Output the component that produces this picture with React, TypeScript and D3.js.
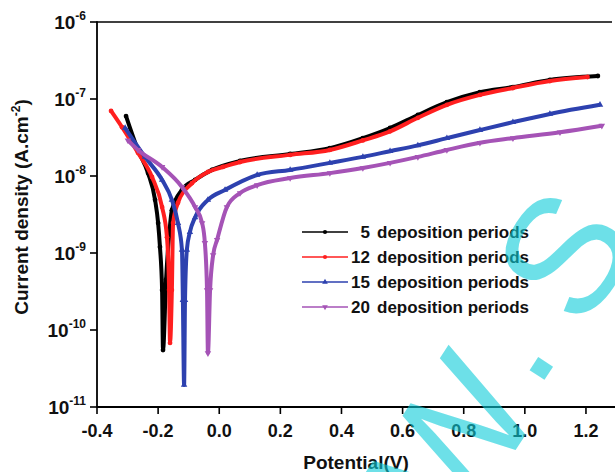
import React from "react";
import * as d3 from "d3";

// ---- data ----
const xTicks = [-0.4, -0.2, 0.0, 0.2, 0.4, 0.6, 0.8, 1.0, 1.2];
const yTickExps = [-6, -7, -8, -9, -10, -11];

const seriesNames = ["5  deposition periods", "12 deposition periods", "15 deposition periods", "20 deposition periods"];
const seriesNumbers = ["5", "12", "15", "20"];

const potential5 = [-0.305, -0.266, -0.233, -0.21, -0.2, -0.194, -0.187, -0.184, -0.174, -0.164, -0.155, -0.122, -0.079, -0.024, 0.068, 0.232, 0.362, 0.47, 0.559, 0.65, 0.745, 0.853, 0.961, 1.082, 1.239];
const current5 = [6.0e-8, 2.18e-8, 1.09e-8, 4.9e-9, 2.45e-9, 1.2e-9, 3.3e-10, 5.5e-11, 4.5e-10, 1.7e-9, 3.6e-9, 6.6e-9, 8.9e-9, 1.2e-8, 1.57e-8, 1.93e-8, 2.3e-8, 3.1e-8, 4.2e-8, 6.2e-8, 9.1e-8, 1.23e-7, 1.43e-7, 1.77e-7, 1.99e-7];

const potential12 = [-0.354, -0.318, -0.266, -0.22, -0.187, -0.171, -0.164, -0.161, -0.155, -0.151, -0.135, -0.089, -0.037, 0.012, 0.068, 0.232, 0.362, 0.47, 0.559, 0.65, 0.745, 0.853, 0.961, 1.082, 1.205];
const current12 = [7.0e-8, 4.3e-8, 2.0e-8, 9.7e-9, 3.95e-9, 1.6e-9, 3.3e-10, 6.8e-11, 3.3e-10, 2.45e-9, 4.5e-9, 8.1e-9, 1.13e-8, 1.31e-8, 1.52e-8, 1.88e-8, 2.18e-8, 2.9e-8, 3.8e-8, 5.7e-8, 8.4e-8, 1.13e-7, 1.39e-7, 1.71e-7, 1.93e-7];

const potential15 = [-0.308, -0.243, -0.187, -0.155, -0.135, -0.122, -0.119, -0.115, -0.112, -0.106, -0.096, -0.079, -0.037, 0.019, 0.124, 0.232, 0.362, 0.47, 0.559, 0.65, 0.745, 0.853, 0.961, 1.082, 1.246];
const current15 = [4.2e-8, 1.77e-8, 8.9e-9, 4.9e-9, 2.45e-9, 1.1e-9, 2.45e-10, 1.93e-11, 2.45e-10, 1.1e-9, 1.87e-9, 2.9e-9, 4.9e-9, 6.6e-9, 1.03e-8, 1.2e-8, 1.48e-8, 1.77e-8, 2.1e-8, 2.5e-8, 3.1e-8, 3.95e-8, 5.0e-8, 6.4e-8, 8.4e-8];

const potential20 = [-0.299, -0.266, -0.187, -0.122, -0.079, -0.056, -0.047, -0.04, -0.037, -0.03, -0.02, -0.007, 0.025, 0.068, 0.124, 0.232, 0.362, 0.47, 0.559, 0.65, 0.745, 0.853, 0.961, 1.115, 1.252];
const current20 = [2.9e-8, 2.18e-8, 1.31e-8, 7.2e-9, 3.95e-9, 2.45e-9, 1.35e-9, 3.3e-10, 5.0e-11, 3.3e-10, 9.4e-10, 1.48e-9, 3.95e-9, 6.0e-9, 7.6e-9, 9.4e-9, 1.09e-8, 1.27e-8, 1.48e-8, 1.77e-8, 2.18e-8, 2.7e-8, 3.1e-8, 3.7e-8, 4.5e-8];

const potentials = [potential5, potential12, potential15, potential20];
const currents = [current5, current12, current15, current20];

// ---- styles ----
const colors = ["#000000", "#ff1f1f", "#2d41af", "#a553b6"];
const symbols = [d3.symbolCircle, d3.symbolCircle, d3.symbolTriangle, d3.symbolTriangle];
const FONT = "'Liberation Sans', Arial, sans-serif";

const W = 615;
const H = 472;
const left = 97;
const right = 612;
const top = 22;
const bottom = 407;

export default function App() {
  const x = d3.scaleLinear().domain([-0.4, -0.4 + (right - left) / 305.6]).range([left, right]);
  const y = d3.scaleLog().domain([1e-11, 1e-6]).range([bottom, top]);

  const line = d3
    .line<[number, number]>()
    .x((d) => x(d[0]))
    .y((d) => y(d[1]))
    .curve(d3.curveMonotoneX);

  const series = potentials.map((p, i) => p.map((v, j) => [v, currents[i][j]] as [number, number]));

  const legendY = [232, 257, 282, 307];

  return (
    <svg width={W} height={H} style={{ position: "fixed", left: 0, top: 0, background: "#fff" }} fontFamily={FONT}>
      <rect x={0} y={0} width={W} height={H} fill="#fff" />

      {/* curves */}
      {series.map((s, i) => (
        <g key={i}>
          <path d={line(s) || ""} fill="none" stroke={colors[i]} strokeWidth={4} strokeLinejoin="round" />
          {s.map((d, j) => (
            <path
              key={j}
              transform={`translate(${x(d[0])},${y(d[1])})${i === 3 ? " rotate(180)" : ""}`}
              d={d3.symbol().type(symbols[i]).size(18)() || ""}
              fill={colors[i]}
            />
          ))}
        </g>
      ))}

      {/* frame */}
      <line x1={left} x2={right} y1={top} y2={top} stroke="#000" strokeWidth={1.6} />
      <line x1={left} x2={left} y1={top - 0.8} y2={bottom + 0.8} stroke="#000" strokeWidth={1.8} />
      <line x1={left} x2={W} y1={bottom} y2={bottom} stroke="#000" strokeWidth={1.8} />

      {/* x ticks */}
      {xTicks.map((t) => (
        <g key={t}>
          <line x1={x(t)} x2={x(t)} y1={bottom} y2={bottom + 7} stroke="#000" strokeWidth={1.6} />
          <text x={x(t)} y={437} textAnchor="middle" fontSize={18} fontWeight="bold" fill="#111">
            {t.toFixed(1)}
          </text>
        </g>
      ))}

      {/* y ticks */}
      {yTickExps.map((e) => (
        <g key={e}>
          <line x1={left - 7} x2={left} y1={y(Math.pow(10, e))} y2={y(Math.pow(10, e))} stroke="#000" strokeWidth={1.6} />
          <text x={86} y={y(Math.pow(10, e)) + 7} textAnchor="end" fontSize={19} fontWeight="bold" fill="#111">
            10
            <tspan fontSize={12} dy={-9}>
              {String(e)}
            </tspan>
          </text>
        </g>
      ))}

      {/* axis titles */}
      <text x={356} y={469} textAnchor="middle" fontSize={19} fontWeight="bold" fill="#111">
        Potential(V)
      </text>
      <text transform="translate(28,207) rotate(-90)" textAnchor="middle" fontSize={19} fontWeight="bold" fill="#111">
        Current density (A.cm
        <tspan fontSize={12} dy={-8}>-2</tspan>
        <tspan dy={8}>)</tspan>
      </text>

      {/* legend */}
      {seriesNames.map((name, i) => (
        <g key={name}>
          <line x1={302} x2={348} y1={legendY[i]} y2={legendY[i]} stroke={colors[i]} strokeWidth={1.6} />
          <path
            transform={`translate(325,${legendY[i]})${i === 3 ? " rotate(180)" : ""}`}
            d={d3.symbol().type(symbols[i]).size(14)() || ""}
            fill={colors[i]}
          />
          <text x={370} y={legendY[i] + 6} textAnchor="end" fontSize={17} fontWeight="bold" fill="#111">
            {seriesNumbers[i]}
          </text>
          <text x={377} y={legendY[i] + 6} fontSize={17} fontWeight="bold" fill="#111">
            deposition periods
          </text>
        </g>
      ))}

      {/* watermark */}
      <g transform="translate(542,369) rotate(-57)" fontSize={165} fill="rgb(13,205,217)" opacity={0.6}>
        <text x={-108} y={22} textAnchor="middle">W</text>
        <text x={0} y={8} textAnchor="middle">.</text>
        <text x={108} y={14} textAnchor="middle">S</text>
      </g>
    </svg>
  );
}
